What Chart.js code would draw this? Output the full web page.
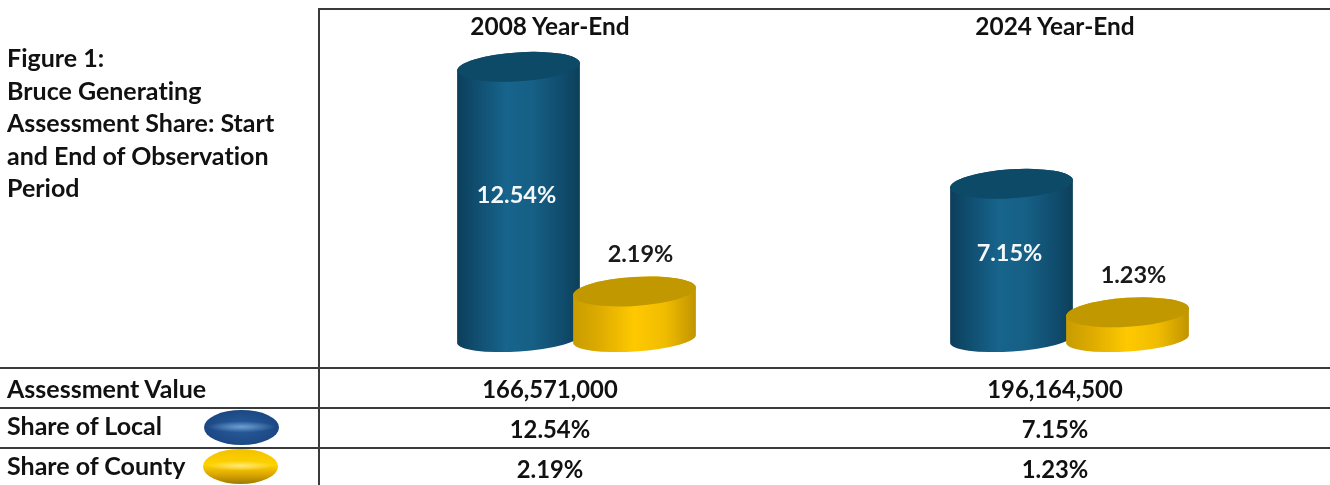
<!DOCTYPE html>
<html>
<head>
<meta charset="utf-8">
<script src="https://cdn.jsdelivr.net/npm/chart.js@4"></script>
<style>
html,body{margin:0;padding:0;background:#fff;}
#wrap{position:relative;width:1330px;height:485px;overflow:hidden;font-family:Lato,sans-serif;font-weight:700;color:#111;font-variant-ligatures:none;}
canvas{position:absolute;left:0;top:0;}
.t{position:absolute;white-space:nowrap;font-size:25px;line-height:30px;}
.n{font-size:23.8px;}
.hd{font-size:24.4px;}
.c{transform:translateX(-50%);}
.h{position:absolute;background:#3a3a3a;height:2px;}
.v{position:absolute;background:#3a3a3a;width:2px;}
#title{position:absolute;left:7px;top:41px;font-size:25px;line-height:32.6px;white-space:pre;}
.sw{position:absolute;width:75px;height:35px;border-radius:50%;}
</style>
</head>
<body>
<div id="wrap">
<canvas id="chart" width="1330" height="485"></canvas>
<div class="h" style="left:319px;top:8px;width:1011px"></div>
<div class="v" style="left:318px;top:8px;height:477px"></div>
<div class="h" style="left:0;top:367px;width:1330px"></div>
<div class="h" style="left:0;top:407px;width:1330px"></div>
<div class="h" style="left:0;top:447px;width:1330px"></div>
<div id="title"></div>
<div id="cells"></div>
<div class="sw" style="left:204px;top:410px;background:radial-gradient(ellipse 45% 16% at 50% 48%,#6f9fd0 0%,rgba(70,120,180,0) 100%),radial-gradient(ellipse at 50% 50%,#2a5c9c 0%,#1c4a86 65%,#123568 100%)"></div>
<div class="sw" style="left:203px;top:449px;background:radial-gradient(ellipse 45% 14% at 50% 48%,#ffe97a 0%,rgba(255,220,60,0) 100%),linear-gradient(#f2c200 0%,#ffd200 45%,#d9a400 75%,#9a7a00 100%)"></div>
</div>
<script>
const categories = ['2008 Year-End', '2024 Year-End'];
const shareLocal = [12.54, 7.15];
const shareCounty = [2.19, 1.23];
const assessmentValue = ['166,571,000', '196,164,500'];
const titleLines = ['Figure 1:', 'Bruce Generating', 'Assessment Share: Start', 'and End of Observation', 'Period'];
const rowLabels = ['Assessment Value', 'Share of Local', 'Share of County'];
const columnCentres = [550, 1055];

const pct = v => v.toFixed(2) + '%';
document.getElementById('title').textContent = titleLines.join('\n');
const cells = document.getElementById('cells');
function addText(txt, x, y, cls) {
  const d = document.createElement('div');
  d.className = 't ' + cls;
  d.style.left = x + 'px';
  d.style.top = (y - 15) + 'px';
  d.textContent = txt;
  cells.appendChild(d);
}
const rowY = [388, 425, 465];
rowLabels.forEach((r, i) => addText(r, 7, rowY[i], ''));
categories.forEach((c, i) => {
  addText(c, columnCentres[i], 26, 'c hd');
  addText(assessmentValue[i], columnCentres[i], 389, 'c n');
  addText(pct(shareLocal[i]), columnCentres[i], 429, 'c n');
  addText(pct(shareCounty[i]), columnCentres[i], 469, 'c n');
});

const RY = 14.5, RY_BOTTOM = 12.5, ROT = -3.7 * Math.PI / 180;
const looks = [
  {stops: [[0,'#0c3e5a'],[0.12,'#0f4a6b'],[0.4,'#17648c'],[0.62,'#165f85'],[0.88,'#0f4a6b'],[1,'#0d4058']], cap: '#0d4a68', label: '#f4f8fb', dx: -2, dy: (top, base) => (top + base) / 2 - 8},
  {stops: [[0,'#c89c00'],[0.2,'#dcaa00'],[0.5,'#ffc900'],[0.75,'#f0bc00'],[1,'#c09400']], cap: '#c29800', label: '#1a1a1a', dx: 6, dy: (top) => top - 37}
];
const cylinders = {
  id: 'cylinders',
  beforeDatasetDraw() { return false; },
  afterDatasetsDraw(chart) {
    const ctx = chart.ctx;
    [0, 1].forEach(di => {
      const look = looks[di];
      chart.getDatasetMeta(di).data.forEach((bar, i) => {
        const p = bar.getProps(['x', 'y', 'base', 'width'], true);
        const rx = p.width / 2;
        const g = ctx.createLinearGradient(p.x - rx, 0, p.x + rx, 0);
        look.stops.forEach(s => g.addColorStop(s[0], s[1]));
        ctx.save();
        ctx.beginPath();
        ctx.ellipse(p.x, p.base, rx, RY_BOTTOM, ROT, 0, Math.PI);
        ctx.ellipse(p.x, p.y, rx, RY, ROT, Math.PI, 2 * Math.PI);
        ctx.closePath();
        ctx.fillStyle = g;
        ctx.fill();
        ctx.beginPath();
        ctx.ellipse(p.x, p.y, rx, RY, ROT, 0, 2 * Math.PI);
        ctx.fillStyle = look.cap;
        ctx.fill();
        ctx.restore();
      });
    });
    [0, 1].forEach(di => {
      const look = looks[di];
      const values = chart.data.datasets[di].data;
      chart.getDatasetMeta(di).data.forEach((bar, i) => {
        const p = bar.getProps(['x', 'y', 'base'], true);
        ctx.save();
        ctx.font = '700 23.5px Lato, sans-serif';
        ctx.textAlign = 'center';
        ctx.textBaseline = 'middle';
        ctx.fillStyle = look.label;
        ctx.fillText(pct(values[i]), p.x + look.dx, look.dy(p.y, p.base));
        ctx.restore();
      });
    });
  }
};

new Chart(document.getElementById('chart'), {
  type: 'bar',
  data: {
    labels: categories,
    datasets: [
      {label: 'Share of Local', data: shareLocal, backgroundColor: '#17648c'},
      {label: 'Share of County', data: shareCounty, backgroundColor: '#ffc900'}
    ]
  },
  options: {
    responsive: false,
    animation: false,
    devicePixelRatio: 1,
    layout: {padding: {left: 330, right: 14, top: 10, bottom: 146}},
    plugins: {legend: {display: false}, tooltip: {enabled: false}},
    datasets: {bar: {categoryPercentage: 232 / 493, barPercentage: 123 / 116}},
    scales: {
      x: {display: false},
      y: {display: false, min: 0, max: 15.16}
    }
  },
  plugins: [cylinders]
});
</script>
</body>
</html>
